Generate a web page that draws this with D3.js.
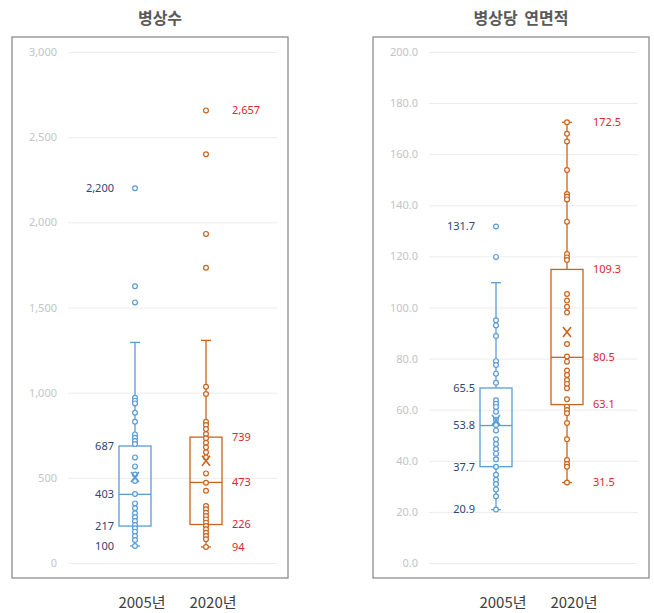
<!DOCTYPE html>
<html>
<head>
<meta charset="utf-8">
<script src="https://cdn.jsdelivr.net/npm/d3@7"></script>
<style>
  body { margin: 0; background: #fff; }
  svg { display: block; font-family: "Noto Sans CJK KR", "Noto Sans", sans-serif; }
</style>
</head>
<body>
<svg id="chart"></svg>
<script>
const categories = ["2005년", "2020년"];

// 병상수
const bedTicks = [0, 500, 1000, 1500, 2000, 2500, 3000];
const bedPts2005 = [2200, 1625, 1530, 970, 953, 937, 882, 829, 755, 735, 716, 698, 620, 567, 520, 481, 405, 350, 321, 292, 268, 246, 223, 204, 184, 158, 135, 100];
const bedPts2020 = [2657, 2400, 1932, 1733, 1035, 992, 829, 810, 786, 757, 732, 706, 679, 650, 620, 526, 471, 424, 335, 315, 295, 276, 256, 237, 217, 198, 178, 158, 139, 94];
const bedLow = [100, 94];
const bedQ1 = [217, 226];
const bedMedian = [403, 473];
const bedQ3 = [687, 739];
const bedHigh = [1295, 1307];
const bedMean = [505, 600];
const bedMax = [2200, 2657];
const bedLabels = [["100", "217", "403", "687", "2,200"], ["94", "226", "473", "739", "2,657"]];

// 병상당 연면적
const areaTicks = [0, 20, 40, 60, 80, 100, 120, 140, 160, 180, 200];
const areaPts2005 = [131.7, 119.8, 95, 93, 88.8, 79, 77.5, 74.1, 70.5, 63.7, 62.3, 61.1, 59.2, 56.1, 54.0, 51.9, 48.4, 46.6, 44.6, 42.8, 40.6, 37.7, 34.5, 32.6, 30.9, 28.8, 26.1, 20.9];
const areaPts2020 = [172.5, 168, 165, 153.8, 144.4, 143.4, 142.3, 133.6, 120.9, 119.6, 118.6, 105.3, 102.7, 100.3, 98, 85.7, 80.8, 78.8, 75.3, 73.6, 71.6, 70.1, 68.4, 64.1, 61.2, 59.9, 58.6, 54.8, 48.4, 40.3, 38.7, 37.7, 31.5];
const areaLow = [20.9, 31.5];
const areaQ1 = [37.7, 62.0];
const areaMedian = [53.8, 80.5];
const areaQ3 = [68.5, 114.9];
const areaHigh = [109.7, 172.5];
const areaMean = [56.0, 90.4];
const areaMax = [131.7, 172.5];
const areaLabels = [["20.9", "37.7", "53.8", "65.5", "131.7"], ["31.5", "63.1", "80.5", "109.3", "172.5"]];

const boxColors = ["#5b9bd5", "#c8641e"];
const labelColors = ["#2f4477", "#e0262b"];

const width = 654, height = 613;
const svg = d3.select("#chart").attr("width", width).attr("height", height);

const panels = [
  {title: "병상수", ox: 0, ticks: bedTicks, max: 3000, fmt: d3.format(","),
   pts: [bedPts2005, bedPts2020], low: bedLow, q1: bedQ1, med: bedMedian, q3: bedQ3,
   high: bedHigh, mean: bedMean, top: bedMax, labels: bedLabels},
  {title: "병상당 연면적", ox: 361, ticks: areaTicks, max: 200, fmt: d3.format(".1f"),
   pts: [areaPts2005, areaPts2020], low: areaLow, q1: areaQ1, med: areaMedian, q3: areaQ3,
   high: areaHigh, mean: areaMean, top: areaMax, labels: areaLabels}
];

const y0 = 563, y1 = 52;
const boxHalf = 16, capHalf = 5;

function drawPanel(p) {
  const g = svg.append("g").attr("transform", `translate(${p.ox},0)`);
  const y = d3.scaleLinear().domain([0, p.max]).range([y0, y1]);
  const x = d3.scalePoint().domain(categories).range([135, 206]);

  g.append("rect")
    .attr("x", 12).attr("y", 37).attr("width", 276).attr("height", 541)
    .attr("fill", "none").attr("stroke", "#8c8c8c").attr("stroke-width", 1.3);

  g.append("text")
    .attr("x", 160).attr("y", 24)
    .attr("text-anchor", "middle")
    .attr("font-size", 16).attr("font-weight", "bold").attr("fill", "#595959")
    .attr("word-spacing", 3)
    .text(p.title);

  // gridlines
  const ag = g.append("g").attr("transform", "translate(277,0)");
  ag.call(d3.axisLeft(y).tickValues(p.ticks).tickSize(209).tickFormat(""));
  ag.select(".domain").remove();
  ag.selectAll("line").attr("stroke", "#ececec");
  // tick labels
  const lg = g.append("g").attr("transform", "translate(68,0)");
  lg.call(d3.axisLeft(y).tickValues(p.ticks).tickFormat(p.fmt).tickSize(0).tickPadding(11));
  lg.select(".domain").remove();
  lg.selectAll("text").attr("fill", "#c4c4c4").attr("font-size", 11)
    .attr("font-family", "'Noto Sans', sans-serif");

  categories.forEach((c, i) => {
    const cx = x(c);
    const col = boxColors[i];
    const bg = g.append("g").attr("stroke", col).attr("fill", "none").attr("stroke-width", 1.3);
    // whiskers
    bg.append("line").attr("x1", cx).attr("x2", cx).attr("y1", y(p.q3[i])).attr("y2", y(p.high[i]));
    bg.append("line").attr("x1", cx).attr("x2", cx).attr("y1", y(p.q1[i])).attr("y2", y(p.low[i]));
    bg.append("line").attr("x1", cx - capHalf).attr("x2", cx + capHalf).attr("y1", y(p.high[i])).attr("y2", y(p.high[i]));
    bg.append("line").attr("x1", cx - capHalf).attr("x2", cx + capHalf).attr("y1", y(p.low[i])).attr("y2", y(p.low[i]));
    // box
    bg.append("rect")
      .attr("x", cx - boxHalf).attr("width", boxHalf * 2)
      .attr("y", y(p.q3[i])).attr("height", y(p.q1[i]) - y(p.q3[i]));
    bg.append("line").attr("x1", cx - boxHalf).attr("x2", cx + boxHalf)
      .attr("y1", y(p.med[i])).attr("y2", y(p.med[i]));
    // points
    bg.selectAll("circle").data(p.pts[i]).join("circle")
      .attr("cx", cx).attr("cy", d => y(d)).attr("r", 2.4)
      .attr("fill", "#fff").attr("stroke-width", 1.2);
    // mean
    const my = y(p.mean[i]);
    bg.append("path")
      .attr("d", `M${cx - 4},${my - 5}L${cx + 4},${my + 5}M${cx + 4},${my - 5}L${cx - 4},${my + 5}`)
      .attr("stroke-width", 1.6);

    // labels
    const vals = [p.low[i], p.q1[i], p.med[i], p.q3[i], p.top[i]];
    g.append("g").selectAll("text").data(vals).join("text")
      .attr("x", i === 0 ? cx - 21 : cx + 26)
      .attr("y", d => y(d))
      .attr("dy", "0.35em")
      .attr("text-anchor", i === 0 ? "end" : "start")
      .attr("font-size", 11).attr("fill", labelColors[i])
      .attr("font-family", "'Noto Sans', sans-serif")
      .text((d, k) => p.labels[i][k]);

    g.append("text")
      .attr("x", cx + 7).attr("y", 608)
      .attr("text-anchor", "middle")
      .attr("font-size", 15).attr("fill", "#404040")
      .text(c);
  });
}

panels.forEach(drawPanel);
</script>
</body>
</html>
